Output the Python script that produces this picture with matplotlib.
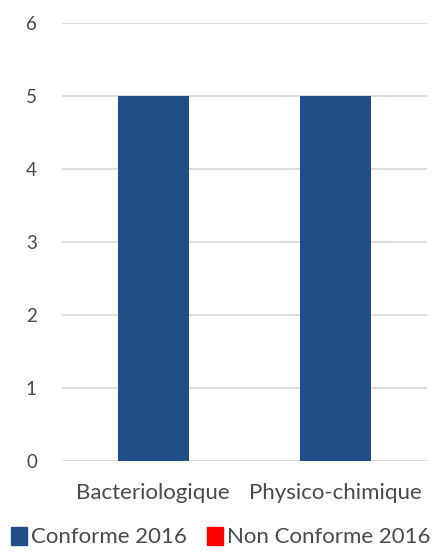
import numpy as np
import matplotlib.pyplot as plt
from matplotlib.patches import Patch

plt.rcParams['font.family'] = ['Lato', 'DejaVu Sans']

categories = ['Bacteriologique', 'Physico-chimique']
conforme_2016 = [5, 5]
non_conforme_2016 = [0, 0]

blue = '#1F4E89'
red = '#FF0000'
text_col = '#4a4a4a'

fig = plt.figure(figsize=(4.42, 5.52), dpi=100)
ax = fig.add_axes([0.140, 0.165, 0.826, 0.793])

x = np.arange(len(categories))
width = 0.39
ax.bar(x, conforme_2016, width, color=blue, zorder=3)
ax.bar(x, non_conforme_2016, width, bottom=conforme_2016, color=red, zorder=3)

ax.set_xlim(-0.5, len(categories) - 0.5)
ax.set_ylim(0, 6)
ax.set_yticks(range(0, 7))
ax.set_xticks(x)
ax.set_xticklabels(categories)

ax.grid(axis='y', color='#d9d9d9', linewidth=1.2, zorder=0)
for s in ax.spines.values():
    s.set_visible(False)
ax.tick_params(length=0, colors=text_col)
ax.tick_params(axis='y', pad=18, labelsize=13.5)
ax.tick_params(axis='x', pad=16, labelsize=16)

handles = [Patch(color=blue, label='Conforme 2016'),
           Patch(color=red, label='Non Conforme 2016')]
fig.legend(handles=handles, loc='center', bbox_to_anchor=(0.5, 0.027), ncol=2,
           frameon=False, fontsize=16, handlelength=0.7, handleheight=0.85,
           handletextpad=0.2, columnspacing=0.9, labelcolor=text_col)

fig.savefig('out.png', dpi=100, facecolor='white')
